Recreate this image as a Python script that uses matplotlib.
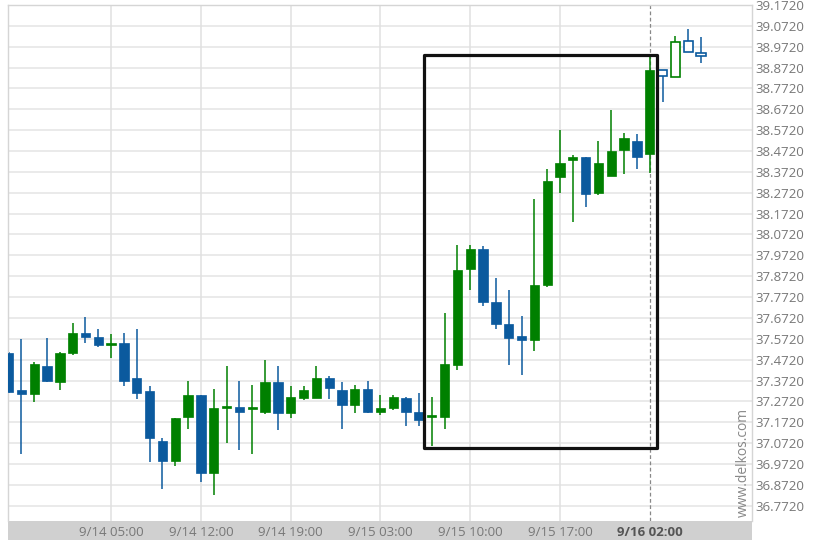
import matplotlib
matplotlib.use("Agg")
import matplotlib.pyplot as plt
from matplotlib.patches import Rectangle
import numpy as np

plt.rcParams['font.family'] = ['Open Sans', 'DejaVu Sans']

# ---- data (hourly candles) ----
opens = [37.504, 37.328, 37.309, 37.443, 37.367, 37.506, 37.602, 37.582, 37.544, 37.554,
         37.386, 37.323, 37.084, 36.988, 37.199, 37.304, 36.930, 37.240, 37.243, 37.236,
         37.221, 37.367, 37.217, 37.287, 37.287, 37.386, 37.327, 37.256, 37.332, 37.223,
         37.242, 37.287, 37.221, 37.197, 37.195, 37.445, 37.905, 38.003, 37.747, 37.641,
         37.584, 37.565, 37.832, 38.346, 38.428, 38.442, 38.271, 38.354, 38.479, 38.522,
         38.458, 38.859, 38.827, 38.998, 38.942]
highs = [37.510, 37.573, 37.462, 37.578, 37.510, 37.649, 37.678, 37.621, 37.597, 37.602,
         37.621, 37.347, 37.098, 37.194, 37.371, 37.304, 37.333, 37.440, 37.371, 37.349,
         37.469, 37.440, 37.344, 37.344, 37.443, 37.392, 37.363, 37.351, 37.371, 37.304,
         37.304, 37.293, 37.310, 37.291, 37.696, 38.020, 38.020, 38.015, 37.864, 37.804,
         37.680, 38.244, 38.388, 38.575, 38.455, 38.445, 38.519, 38.671, 38.559, 38.554,
         38.926, 38.862, 39.022, 39.057, 39.019]
lows = [37.310, 37.021, 37.271, 37.367, 37.328, 37.496, 37.554, 37.534, 37.482, 37.347,
        37.285, 36.983, 36.854, 36.964, 37.141, 36.887, 36.825, 37.073, 37.041, 37.021,
        37.212, 37.133, 37.193, 37.280, 37.287, 37.284, 37.140, 37.217, 37.217, 37.208,
        37.232, 37.152, 37.152, 37.060, 37.141, 37.421, 37.808, 37.731, 37.619, 37.448,
        37.400, 37.515, 37.821, 38.271, 38.132, 38.204, 38.260, 38.351, 38.362, 38.386,
        38.367, 38.709, 38.827, 38.945, 38.895]
closes = [37.315, 37.309, 37.453, 37.371, 37.506, 37.602, 37.582, 37.544, 37.554, 37.371,
          37.314, 37.098, 36.988, 37.194, 37.304, 36.930, 37.242, 37.248, 37.223, 37.240,
          37.367, 37.217, 37.293, 37.327, 37.386, 37.335, 37.256, 37.332, 37.221, 37.240,
          37.293, 37.223, 37.184, 37.202, 37.451, 37.903, 38.003, 37.750, 37.643, 37.578,
          37.565, 37.832, 38.330, 38.415, 38.442, 38.268, 38.415, 38.474, 38.535, 38.444,
          38.862, 38.834, 38.993, 38.945, 38.926]
hollow_from = 51  # candles after the marker are drawn hollow

tick_idx = [8, 15, 22, 29, 36, 43, 50]
tick_labels = ['9/14 05:00', '9/14 12:00', '9/14 19:00', '9/15 03:00',
               '9/15 10:00', '9/15 17:00', '9/16 02:00']
y_ticks = [round(36.772 + 0.1 * k, 3) for k in range(25)]
y_labels = ['%.4f' % v for v in y_ticks]

box_x = (32.42, 50.55)
box_y = (37.049, 38.934)

GREEN = '#008000'
BLUE = '#0b5a9e'

W, H = 822, 548
fig = plt.figure(figsize=(W / 100, H / 100), dpi=100)
L, R, T, B = 8.3, 751.7, 5.0, 520.7
ax = fig.add_axes([L / W, 1 - B / H, (R - L) / W, (B - T) / H])

# gray band under plot
fig.add_artist(Rectangle((L / W, 1 - 539.5 / H), (R - L) / W, (539.5 - B) / H,
                         transform=fig.transFigure, facecolor='#d0d0d0',
                         edgecolor='none', zorder=0))

ax.set_xlim(-0.02, 57.95)
ax.set_ylim(36.700, 39.172)

# grid
for v in y_ticks:
    ax.axhline(v, color='#e4e4e4', lw=1.1, zorder=0)
for i in tick_idx[:-1]:
    ax.axvline(i, color='#e0e0e0', lw=1.1, zorder=0)
ax.axvline(tick_idx[-1], color='#888888', lw=0.9, ls=(0, (3, 2)), zorder=1)

bw = 0.725
n = len(opens)
x = np.arange(n)
for i in range(n):
    o, h, l, c = opens[i], highs[i], lows[i], closes[i]
    col = GREEN if c >= o else BLUE
    bottom = min(o, c)
    height = max(abs(c - o), 0.008)
    if i >= hollow_from:
        ax.vlines(x[i], l, bottom, color=col, lw=1.1, zorder=2)
        ax.vlines(x[i], bottom + height, h, color=col, lw=1.1, zorder=2)
        ax.bar(x[i], height, bw, bottom=bottom, facecolor='white',
               edgecolor=col, linewidth=1.2, zorder=3)
    else:
        ax.vlines(x[i], l, h, color=col, lw=1.1, zorder=2)
        ax.bar(x[i], height, bw, bottom=bottom, color=col,
               edgecolor=col, linewidth=0.5, zorder=3)

# highlight box
ax.add_patch(Rectangle((box_x[0], box_y[0]), box_x[1] - box_x[0], box_y[1] - box_y[0],
                       fill=False, edgecolor='#111111', linewidth=2.3,
                       joinstyle='round', zorder=4))

# axes styling
for s in ['left', 'top', 'right']:
    ax.spines[s].set_color('#d5d5d5')
    ax.spines[s].set_linewidth(1.0)
ax.spines['bottom'].set_visible(False)

ax.yaxis.tick_right()
ax.set_yticks(y_ticks)
ax.set_yticklabels(y_labels)
ax.tick_params(axis='y', length=0, pad=3, labelsize=9.5, labelcolor='#777777')

ax.set_xticks(tick_idx)
ax.set_xticklabels(tick_labels)
ax.tick_params(axis='x', length=0, pad=4, labelsize=9.5, labelcolor='#777777')
lab = ax.get_xticklabels()[-1]
lab.set_fontweight('bold')
lab.set_color('#555555')

fig.text(743 / W, 1 - 462 / H, 'www.delkos.com', rotation=90, ha='center',
         va='center', fontsize=10, color='#888888')

fig.savefig('out.png', dpi=100)
